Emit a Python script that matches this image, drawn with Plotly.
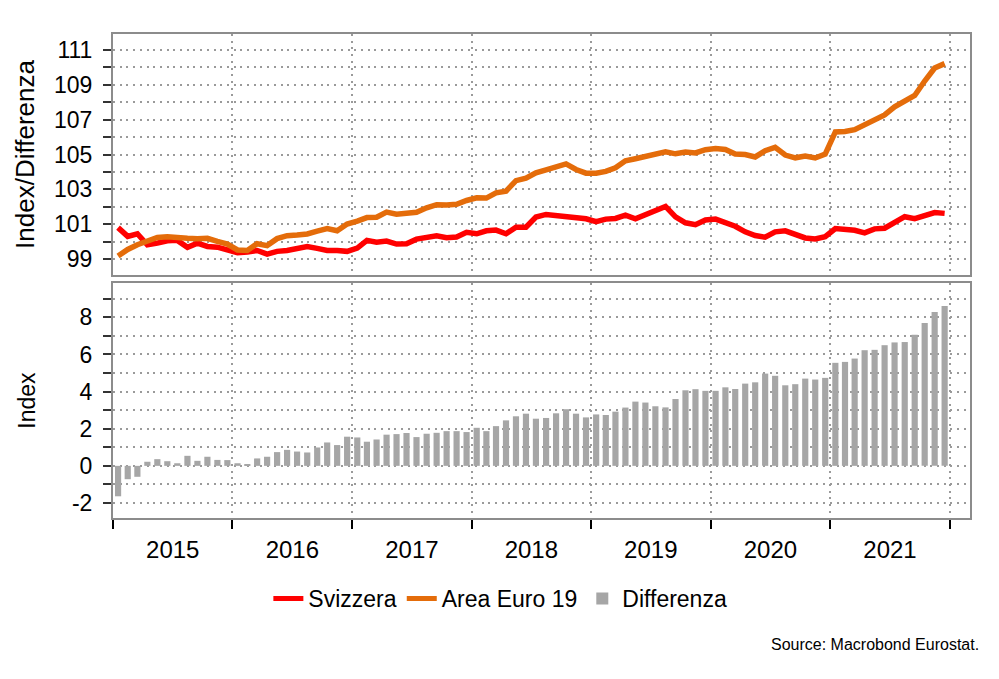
import plotly.graph_objects as go
from plotly.subplots import make_subplots

months = [f"{y}-{m:02d}" for y in range(2015, 2022) for m in range(1, 13)]

svizzera = [
    100.80, 100.30, 100.45, 99.82, 99.91, 100.05, 100.07, 99.67, 99.91, 99.72, 99.68, 99.53,
    99.36, 99.40, 99.49, 99.28, 99.44, 99.49, 99.61, 99.72, 99.61, 99.49, 99.49, 99.44,
    99.63, 100.07, 99.97, 100.03, 99.86, 99.88, 100.14, 100.22, 100.33, 100.22, 100.26, 100.53,
    100.45, 100.62, 100.66, 100.45, 100.83, 100.83, 101.41, 101.56, 101.48, 101.42, 101.33, 101.31,
    101.14, 101.29, 101.33, 101.52, 101.31, 101.52, 101.80, 102.02, 101.42, 101.08, 100.97, 101.24,
    101.29, 101.06, 100.88, 100.56, 100.35, 100.25, 100.56, 100.62, 100.41, 100.21, 100.15, 100.28,
    100.75, 100.72, 100.65, 100.50, 100.73, 100.77, 101.10, 101.43, 101.32, 101.52, 101.67, 101.62,
]

area_euro = [
    99.17, 99.55, 99.82, 100.03, 100.24, 100.28, 100.21, 100.19, 100.17, 100.19, 100.01, 99.86,
    99.52, 99.49, 99.88, 99.77, 100.17, 100.34, 100.38, 100.44, 100.60, 100.75, 100.62, 101.01,
    101.18, 101.38, 101.40, 101.69, 101.57, 101.64, 101.68, 101.94, 102.12, 102.10, 102.14, 102.36,
    102.51, 102.50, 102.80, 102.90, 103.50, 103.64, 103.95, 104.12, 104.30, 104.46, 104.14, 103.93,
    103.92, 104.03, 104.24, 104.64, 104.76, 104.91, 105.02, 105.16, 105.04, 105.14, 105.09, 105.28,
    105.34, 105.29, 105.03, 105.00, 104.86, 105.22, 105.41, 104.97, 104.81, 104.91, 104.80, 105.02,
    106.30, 106.32, 106.43, 106.73, 106.98, 107.27, 107.74, 108.10, 108.39, 109.22, 109.97, 110.22,
]

differenza = [
    -1.64, -0.72, -0.59, 0.22, 0.36, 0.25, 0.14, 0.54, 0.27, 0.49, 0.32, 0.31,
    0.14, 0.09, 0.40, 0.49, 0.74, 0.86, 0.77, 0.72, 0.99, 1.26, 1.12, 1.57,
    1.53, 1.30, 1.42, 1.68, 1.71, 1.77, 1.55, 1.73, 1.78, 1.87, 1.87, 1.82,
    2.05, 1.87, 2.14, 2.45, 2.67, 2.81, 2.54, 2.58, 2.83, 3.05, 2.81, 2.61,
    2.77, 2.74, 2.92, 3.14, 3.46, 3.41, 3.21, 3.15, 3.60, 4.07, 4.13, 4.04,
    4.04, 4.23, 4.14, 4.43, 4.50, 4.97, 4.85, 4.34, 4.40, 4.70, 4.65, 4.74,
    5.55, 5.60, 5.78, 6.23, 6.25, 6.50, 6.65, 6.67, 7.06, 7.69, 8.29, 8.61,
]

top_tickvals = list(range(98, 113))
top_ticktext = [str(v) if v % 2 == 1 else "" for v in top_tickvals]
bot_tickvals = list(range(-2, 10))
bot_ticktext = [str(v) if v % 2 == 0 else "" for v in bot_tickvals]

RED = "#FF0000"
ORANGE = "#E46C0A"
GREY = "#A6A6A6"
FONT = "Liberation Sans, Arial, sans-serif"

fig = make_subplots(rows=2, cols=1, shared_xaxes=True, vertical_spacing=0.0165)

fig.add_trace(go.Scatter(x=months, y=svizzera, name="Svizzera", mode="lines",
                         line=dict(color=RED, width=5.5),
                         xperiod="M1", xperiodalignment="middle"), row=1, col=1)
fig.add_trace(go.Scatter(x=months, y=area_euro, name="Area Euro 19", mode="lines",
                         line=dict(color=ORANGE, width=5.5),
                         xperiod="M1", xperiodalignment="middle"), row=1, col=1)
fig.add_trace(go.Bar(x=months, y=differenza, name="Differenza",
                     marker=dict(color=GREY, line=dict(width=0)),
                     xperiod="M1", xperiodalignment="middle"), row=2, col=1)

axis_common = dict(showline=True, mirror=True, linecolor="#8C8C8C", linewidth=2,
                   showgrid=True, gridcolor="#9A9A9A", griddash="2px,4.7px", gridwidth=1.6,
                   zeroline=False)

fig.update_xaxes(**axis_common, type="date", range=["2015-01-01", "2022-03-04"],
                 dtick="M12", tick0="2015-01-01")
fig.update_xaxes(showticklabels=False, ticks="", domain=[0, 1], row=1, col=1)
fig.update_xaxes(ticks="outside", ticklen=9, tickwidth=2, tickcolor="#000000",
                 ticklabelmode="period", tickformat="%Y",
                 tickfont=dict(size=24, color="#000000"), row=2, col=1)

fig.update_yaxes(**axis_common, ticks="outside", ticklen=8, tickwidth=2,
                 tickcolor="#333333", tickfont=dict(size=23, color="#000000"),
                 ticklabelstandoff=6)
fig.update_yaxes(range=[98.08, 111.92], tickvals=top_tickvals, ticktext=top_ticktext,
                 domain=[0.502, 1.0],
                 title=dict(text="Index/Differenza", font=dict(size=26, color="#000000"),
                            standoff=12), row=1, col=1)
fig.update_yaxes(range=[-2.81, 9.85], tickvals=bot_tickvals, ticktext=bot_ticktext,
                 domain=[0.0, 0.4855],
                 title=dict(text="Index", font=dict(size=23, color="#000000"),
                            standoff=30), row=2, col=1)

fig.update_layout(
    width=999, height=679,
    margin=dict(l=113, r=29, t=34, b=161),
    plot_bgcolor="#FFFFFF", paper_bgcolor="#FFFFFF",
    font=dict(family=FONT, color="#000000"),
    bargap=0.36,
    showlegend=True,
    legend=dict(orientation="h", x=0.452, xanchor="center", y=-0.122, yanchor="top",
                font=dict(size=23, color="#000000"), itemwidth=30,
                tracegroupgap=0, itemsizing="constant"),
    annotations=[dict(text="Source: Macrobond Eurostat.", xref="paper", yref="paper",
                      x=1.0128, y=-0.24, xanchor="right", yanchor="top", showarrow=False,
                      font=dict(size=16, color="#000000"))],
)

fig.write_html("out.html")
